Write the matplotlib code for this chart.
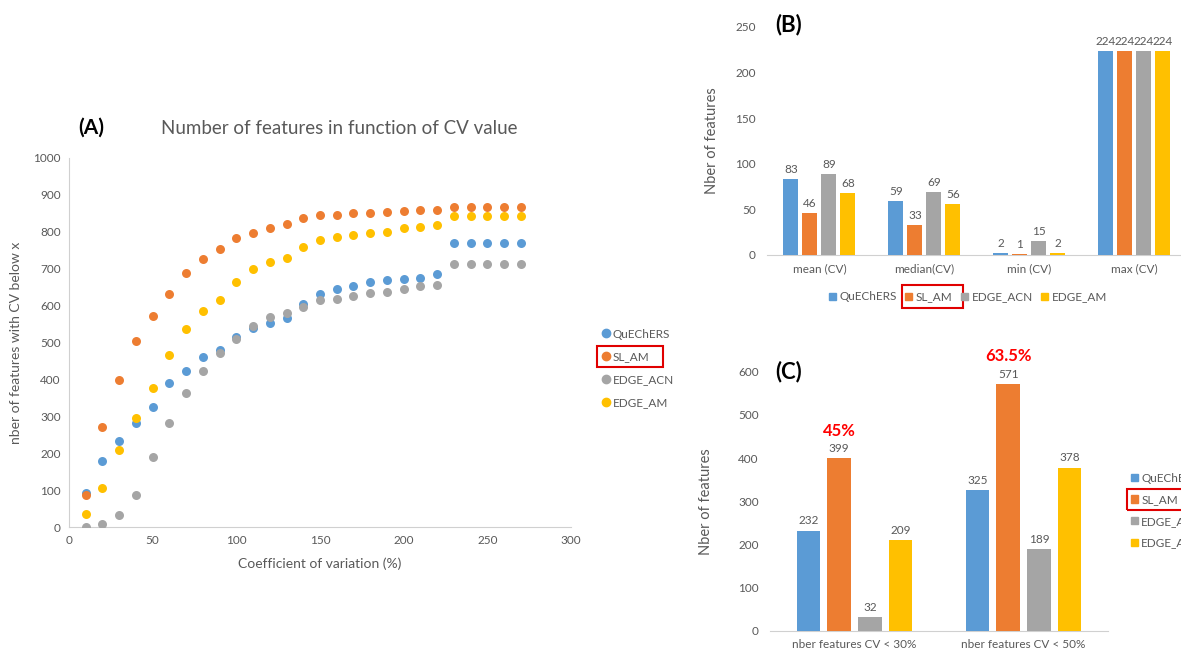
import matplotlib
matplotlib.use("Agg")
import matplotlib.pyplot as plt
from matplotlib.patches import Rectangle
from matplotlib.lines import Line2D
from matplotlib.patches import Patch

plt.rcParams['font.family'] = ['Lato', 'DejaVu Sans']

# data
methods = ["QuEChERS", "SL_AM", "EDGE_ACN", "EDGE_AM"]
colors = ["#5B9BD5", "#ED7D31", "#A5A5A5", "#FFC000"]

cv = [10, 20, 30, 40, 50, 60, 70, 80, 90, 100, 110, 120, 130, 140,
      150, 160, 170, 180, 190, 200, 210, 220, 230, 240, 250, 260, 270]
quechers = [93, 179, 232, 283, 326, 389, 424, 461, 481, 516, 539, 552, 566, 604,
            631, 644, 652, 663, 668, 672, 674, 685, 769, 769, 769, 769, 769]
sl_am = [88, 272, 399, 505, 571, 631, 689, 727, 752, 783, 796, 811, 821, 838,
         846, 846, 850, 852, 854, 856, 858, 860, 867, 867, 867, 867, 867]
edge_acn = [0, 8, 32, 86, 189, 282, 364, 423, 471, 509, 546, 568, 579, 597,
            615, 619, 626, 634, 638, 644, 652, 656, 713, 713, 713, 713, 713]
edge_am = [35, 106, 209, 295, 378, 465, 536, 584, 615, 664, 700, 719, 729, 758,
           777, 787, 792, 798, 800, 809, 812, 818, 842, 842, 842, 842, 842]
curves = [quechers, sl_am, edge_acn, edge_am]

stats_cats = ["mean (CV)", "median(CV)", "min (CV)", "max (CV)"]
stats_vals = [
    [83, 59, 2, 224],   # QuEChERS
    [46, 33, 1, 224],   # SL_AM
    [89, 69, 15, 224],  # EDGE_ACN
    [68, 56, 2, 224],   # EDGE_AM
]

thr_cats = ["nber features CV < 30%", "nber features CV < 50%"]
thr_vals = [
    [232, 325],
    [399, 571],
    [32, 189],
    [209, 378],
]
pct_labels = ["45%", "63.5%"]

grey_txt = "#595959"
axis_col = "#D0D0D0"

fig = plt.figure(figsize=(11.81, 6.52), dpi=100)

# ---------- panel A ----------
axA = fig.add_axes([0.0584, 0.1917, 0.4251, 0.566])
for vals, c, m in zip(curves, colors, methods):
    axA.scatter(cv, vals, s=42, color=c, label=m, zorder=3, linewidths=0)
axA.set_xlim(0, 300)
axA.set_ylim(0, 1000)
axA.set_xticks(range(0, 301, 50))
axA.set_yticks(range(0, 1001, 100))
for s in ["top", "right"]:
    axA.spines[s].set_visible(False)
for s in ["left", "bottom"]:
    axA.spines[s].set_color(axis_col)
axA.tick_params(length=0, labelsize=8.5, colors=grey_txt, pad=6)
axA.set_xlabel("Coefficient of variation (%)", fontsize=10, color=grey_txt, labelpad=8)
axA.set_ylabel("nber of features with CV below x", fontsize=10, color=grey_txt, labelpad=8)
fig.text(339 / 1181, 1 - 128 / 652, "Number of features in function of CV value",
         fontsize=13.5, color=grey_txt, ha="center", va="center")
fig.text(78 / 1181, 1 - 128 / 652, "(A)", fontsize=15, fontweight="bold",
         ha="left", va="center")

hA = [Line2D([], [], marker="o", ls="", color=c, markersize=6) for c in colors]
legA = fig.legend(hA, methods, loc="upper left",
                  bbox_to_anchor=(589 / 1181, 1 - 318 / 652), frameon=False,
                  fontsize=8.5, labelcolor=grey_txt, handletextpad=0.1,
                  handlelength=1.0, labelspacing=1.0)

# ---------- panel B ----------
axB = fig.add_axes([0.6494, 0.6089, 0.3556, 0.3497])
pitch = 0.181
bw = 0.143
xs = range(len(stats_cats))
for i, (vals, c) in enumerate(zip(stats_vals, colors)):
    pos = [x + (i - 1.5) * pitch for x in xs]
    bars = axB.bar(pos, vals, width=bw, color=c, zorder=3)
    axB.bar_label(bars, padding=3, fontsize=8.5, color=grey_txt)
axB.set_xlim(-0.5, 3.5)
axB.set_ylim(0, 250)
axB.set_yticks(range(0, 251, 50))
axB.set_xticks(list(xs))
axB.set_xticklabels(stats_cats)
for s in ["top", "right", "left"]:
    axB.spines[s].set_visible(False)
axB.spines["bottom"].set_color(axis_col)
axB.tick_params(length=0, labelsize=8.5, colors=grey_txt, pad=6)
axB.tick_params(axis="y", pad=8)
axB.set_ylabel("Nber of features", fontsize=10.5, color=grey_txt, labelpad=12)
fig.text(775 / 1181, 1 - 25 / 652, "(B)", fontsize=16, fontweight="bold",
         ha="left", va="center")

hB = [Patch(color=c) for c in colors]
legB = fig.legend(hB, methods, loc="center", ncol=4,
                  bbox_to_anchor=(968 / 1181, 1 - 297 / 652), frameon=False,
                  fontsize=8.5, labelcolor=grey_txt, handletextpad=0.3,
                  handlelength=0.6, handleheight=0.6, columnspacing=0.7)

# ---------- panel C ----------
axC = fig.add_axes([0.652, 0.0327, 0.2862, 0.3972])
pitch = 0.182
bw = 0.14
xs = range(len(thr_cats))
for i, (vals, c) in enumerate(zip(thr_vals, colors)):
    pos = [x + (i - 1.5) * pitch for x in xs]
    bars = axC.bar(pos, vals, width=bw, color=c, zorder=3)
    axC.bar_label(bars, padding=3, fontsize=8.5, color=grey_txt)
    if i == 1:
        for p, v, lab in zip(pos, vals, pct_labels):
            axC.annotate(lab, (p, v), xytext=(0, 20), textcoords="offset points",
                         ha="center", va="center", color="#FF0000",
                         fontsize=12, fontweight="bold")
axC.set_xlim(-0.5, 1.5)
axC.set_ylim(0, 600)
axC.set_yticks(range(0, 601, 100))
axC.set_xticks(list(xs))
axC.set_xticklabels(thr_cats)
for s in ["top", "right", "left"]:
    axC.spines[s].set_visible(False)
axC.spines["bottom"].set_color(axis_col)
axC.tick_params(length=0, labelsize=8.5, colors=grey_txt, pad=6)
axC.tick_params(axis="y", pad=8)
axC.set_ylabel("Nber of features", fontsize=10.5, color=grey_txt, labelpad=18)
fig.text(775 / 1181, 1 - 372 / 652, "(C)", fontsize=16, fontweight="bold",
         ha="left", va="center")

hC = [Patch(color=c) for c in colors]
legC = fig.legend(hC, methods, loc="upper left",
                  bbox_to_anchor=(1120 / 1181, 1 - 462 / 652), frameon=False,
                  fontsize=8.5, labelcolor=grey_txt, handletextpad=0.3,
                  handlelength=0.6, handleheight=0.6, labelspacing=0.9)

# red boxes around the SL_AM legend entries
fig.canvas.draw()
rend = fig.canvas.get_renderer()
inv = fig.transFigure.inverted()


def red_box(leg, left_pad, right_pad, vpad):
    bb = leg.get_texts()[1].get_window_extent(rend)
    x0, y0 = bb.x0 - left_pad, bb.y0 - vpad
    x1, y1 = bb.x1 + right_pad, bb.y1 + vpad
    (fx0, fy0), (fx1, fy1) = inv.transform([(x0, y0), (x1, y1)])
    fig.add_artist(Rectangle((fx0, fy0), fx1 - fx0, fy1 - fy0, fill=False,
                             edgecolor="#E00000", linewidth=1.5,
                             transform=fig.transFigure))


red_box(legA, 16, 14, 5)
red_box(legB, 14, 10, 6)
red_box(legC, 14, 30, 5)

fig.savefig("out.png", dpi=100)
